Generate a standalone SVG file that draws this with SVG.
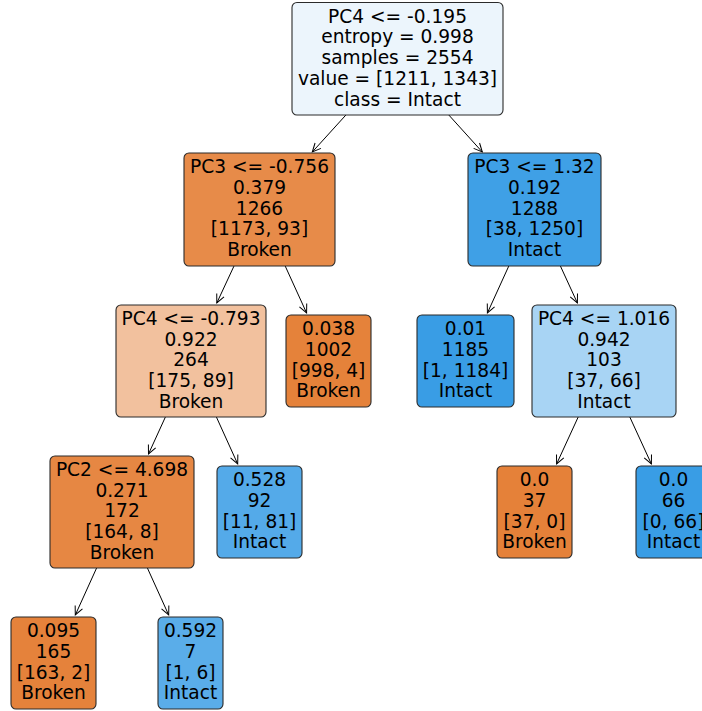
<svg xmlns="http://www.w3.org/2000/svg" width="702" height="711" viewBox="0 0 702 711">
<style>
.box{stroke:#2a2a2a;stroke-width:1.1}
text{font-family:"DejaVu Sans",sans-serif;font-size:18.6px;fill:#000;text-anchor:middle}
.edge{stroke:#000;stroke-width:1;fill:none;marker-end:url(#arr)}
</style>
<defs>
<marker id="arr" markerUnits="userSpaceOnUse" markerWidth="12" markerHeight="12" viewBox="0 0 12 12" refX="10" refY="6" orient="auto">
<path d="M1.5,2 L10,6 L1.5,10" fill="none" stroke="#000" stroke-width="1"/>
</marker>
</defs>
<rect width="702" height="711" fill="#fff"/>
<g id="connectors">
<line class="edge" x1="345.9" y1="115" x2="312.3" y2="152"/>
<line class="edge" x1="448.8" y1="115" x2="482.3" y2="152"/>
<line class="edge" x1="234" y1="266" x2="216.8" y2="303"/>
<line class="edge" x1="285.2" y1="266" x2="306.6" y2="313"/>
<line class="edge" x1="508.8" y1="266" x2="487.4" y2="313"/>
<line class="edge" x1="560.4" y1="266" x2="577.4" y2="303"/>
<line class="edge" x1="165.4" y1="417" x2="148.5" y2="454"/>
<line class="edge" x1="216.4" y1="417" x2="237.7" y2="464"/>
<line class="edge" x1="578.2" y1="417" x2="556.6" y2="464"/>
<line class="edge" x1="629.8" y1="417" x2="651.4" y2="464"/>
<line class="edge" x1="96.6" y1="568" x2="75.3" y2="615"/>
<line class="edge" x1="147.4" y1="568" x2="168.7" y2="615"/>
</g>
<g id="node0">
<rect class="box" x="292" y="2.5" width="211" height="112.5" rx="5" fill="#ecf5fc"/>
<text x="397.5" y="22.7">PC4 &lt;= -0.195</text>
<text x="397.5" y="43.4">entropy = 0.998</text>
<text x="397.5" y="64.1">samples = 2554</text>
<text x="397.5" y="84.8">value = [1211, 1343]</text>
<text x="397.5" y="105.5">class = Intact</text>
</g>
<g id="node1">
<rect class="box" x="184" y="153" width="151" height="113" rx="5" fill="#e78b49"/>
<text x="259.5" y="173.2">PC3 &lt;= -0.756</text>
<text x="259.5" y="193.9">0.379</text>
<text x="259.5" y="214.6">1266</text>
<text x="259.5" y="235.3">[1173, 93]</text>
<text x="259.5" y="256">Broken</text>
</g>
<g id="node2">
<rect class="box" x="468" y="153" width="133" height="113" rx="5" fill="#3fa0e6"/>
<text x="534.5" y="173.2">PC3 &lt;= 1.32</text>
<text x="534.5" y="193.9">0.192</text>
<text x="534.5" y="214.6">1288</text>
<text x="534.5" y="235.3">[38, 1250]</text>
<text x="534.5" y="256">Intact</text>
</g>
<g id="node3">
<rect class="box" x="116" y="305" width="150" height="112" rx="5" fill="#f2c19e"/>
<text x="191" y="324.8">PC4 &lt;= -0.793</text>
<text x="191" y="345.5">0.922</text>
<text x="191" y="366.2">264</text>
<text x="191" y="386.9">[175, 89]</text>
<text x="191" y="407.6">Broken</text>
</g>
<g id="node4">
<rect class="box" x="286" y="315" width="85" height="92" rx="5" fill="#e5823a"/>
<text x="328.5" y="335.1">0.038</text>
<text x="328.5" y="355.8">1002</text>
<text x="328.5" y="376.5">[998, 4]</text>
<text x="328.5" y="397.2">Broken</text>
</g>
<g id="node5">
<rect class="box" x="417" y="315" width="97" height="92" rx="5" fill="#399de5"/>
<text x="465.5" y="335.1">0.01</text>
<text x="465.5" y="355.8">1185</text>
<text x="465.5" y="376.5">[1, 1184]</text>
<text x="465.5" y="397.2">Intact</text>
</g>
<g id="node6">
<rect class="box" x="532" y="305" width="144" height="112" rx="5" fill="#a8d4f4"/>
<text x="604" y="324.8">PC4 &lt;= 1.016</text>
<text x="604" y="345.5">0.942</text>
<text x="604" y="366.2">103</text>
<text x="604" y="386.9">[37, 66]</text>
<text x="604" y="407.6">Intact</text>
</g>
<g id="node7">
<rect class="box" x="50" y="456" width="144" height="112" rx="5" fill="#e68743"/>
<text x="122" y="475.8">PC2 &lt;= 4.698</text>
<text x="122" y="496.5">0.271</text>
<text x="122" y="517.2">172</text>
<text x="122" y="537.9">[164, 8]</text>
<text x="122" y="558.6">Broken</text>
</g>
<g id="node8">
<rect class="box" x="217" y="466" width="85" height="92" rx="5" fill="#54aae9"/>
<text x="259.5" y="486.1">0.528</text>
<text x="259.5" y="506.8">92</text>
<text x="259.5" y="527.5">[11, 81]</text>
<text x="259.5" y="548.2">Intact</text>
</g>
<g id="node9">
<rect class="box" x="497" y="466" width="75" height="92" rx="5" fill="#e58139"/>
<text x="534.5" y="486.1">0.0</text>
<text x="534.5" y="506.8">37</text>
<text x="534.5" y="527.5">[37, 0]</text>
<text x="534.5" y="548.2">Broken</text>
</g>
<g id="node10">
<rect class="box" x="636" y="466" width="75" height="92" rx="5" fill="#399de5"/>
<text x="673.5" y="486.1">0.0</text>
<text x="673.5" y="506.8">66</text>
<text x="673.5" y="527.5">[0, 66]</text>
<text x="673.5" y="548.2">Intact</text>
</g>
<g id="node11">
<rect class="box" x="11" y="617" width="85" height="92" rx="5" fill="#e5823b"/>
<text x="53.5" y="637.1">0.095</text>
<text x="53.5" y="657.8">165</text>
<text x="53.5" y="678.5">[163, 2]</text>
<text x="53.5" y="699.2">Broken</text>
</g>
<g id="node12">
<rect class="box" x="158" y="617" width="65" height="92" rx="5" fill="#5aade9"/>
<text x="190.5" y="637.1">0.592</text>
<text x="190.5" y="657.8">7</text>
<text x="190.5" y="678.5">[1, 6]</text>
<text x="190.5" y="699.2">Intact</text>
</g>
</svg>
